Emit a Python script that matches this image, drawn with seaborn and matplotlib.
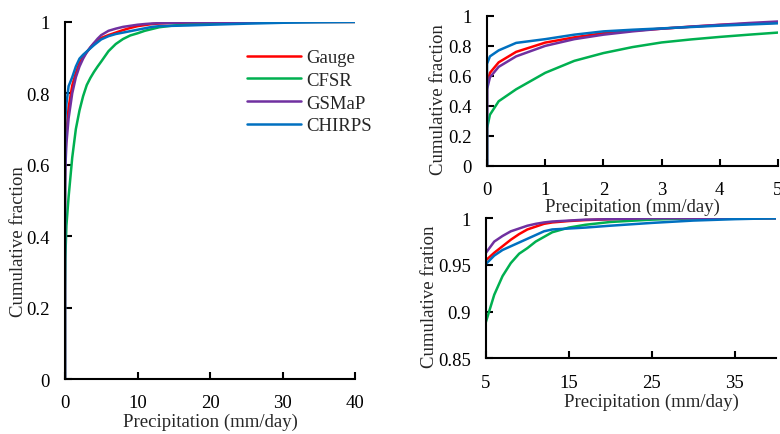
import matplotlib
matplotlib.use("Agg")
import matplotlib.pyplot as plt
import seaborn as sns
import pandas as pd

# cumulative distribution of daily precipitation
precip = [0, 0, 0.05, 0.2, 0.5, 1, 1.5, 2, 2.5, 3, 3.5, 4, 4.5,
          5, 6, 7, 8, 9, 10, 11, 12, 13, 15, 17, 20, 25, 30, 35, 40]

gauge = [0, 0.545, 0.62, 0.69, 0.76, 0.822, 0.857, 0.885, 0.902, 0.915, 0.928, 0.94, 0.948,
         0.955, 0.963, 0.970, 0.977, 0.983, 0.988, 0.991, 0.994, 0.9955, 0.997, 0.998, 0.999, 1, 1, 1, 1]
cfsr = [0, 0.25, 0.34, 0.43, 0.51, 0.62, 0.70, 0.752, 0.792, 0.823, 0.843, 0.86, 0.875,
        0.889, 0.918, 0.938, 0.952, 0.962, 0.968, 0.975, 0.980, 0.985, 0.990, 0.993, 0.996, 0.9985, 1, 1, 1]
gsmap = [0, 0.51, 0.59, 0.66, 0.73, 0.80, 0.845, 0.875, 0.897, 0.915, 0.929, 0.941, 0.953,
         0.963, 0.975, 0.981, 0.986, 0.989, 0.992, 0.994, 0.9955, 0.9965, 0.9975, 0.9985, 0.999, 1, 1, 1, 1]
chirps = [0, 0.68, 0.73, 0.77, 0.82, 0.845, 0.875, 0.897, 0.908, 0.917, 0.926, 0.935, 0.943,
          0.951, 0.960, 0.966, 0.970, 0.974, 0.978, 0.982, 0.986, 0.988, 0.989, 0.990, 0.992, 0.995, 0.9975, 0.999, 1]

products = ["Gauge", "CFSR", "GSMaP", "CHIRPS"]
colors = ["#FF0000", "#00B050", "#7030A0", "#0070C0"]

rows = []
for name, vals in zip(products, [gauge, cfsr, gsmap, chirps]):
    for x, y in zip(precip, vals):
        rows.append({"Precip": x, "Frac": y, "Product": name})
df = pd.DataFrame(rows)

sns.set_theme(style="ticks")
plt.rcParams['font.family'] = ['Liberation Serif', 'DejaVu Serif']
FS = 13.5

fig = plt.figure(figsize=(7.8, 4.35), dpi=100)
ax1 = fig.add_axes([0.0833, 0.1264, 0.372, 0.821])
ax2 = fig.add_axes([0.6244, 0.617, 0.373, 0.344])
ax3 = fig.add_axes([0.623, 0.174, 0.372, 0.322])


def draw(ax, legend=False):
    sns.lineplot(data=df, x="Precip", y="Frac", hue="Product", hue_order=products,
                 palette=colors, estimator=None, units="Product", sort=False,
                 linewidth=1.8, ax=ax, legend=legend)
    for s in ["top", "right"]:
        ax.spines[s].set_visible(False)
    for s in ["left", "bottom"]:
        ax.spines[s].set_linewidth(1.5)
        ax.spines[s].set_color("black")
    ax.tick_params(direction="in", length=5, width=1.5, pad=11,
                   labelsize=FS, colors="black")


# ================== left: full range ==================
draw(ax1, legend=True)
ax1.set_xlim(0, 40)
ax1.set_ylim(0, 1)
ax1.set_xticks([0, 10, 20, 30, 40])
ax1.set_yticks([0, 0.2, 0.4, 0.6, 0.8, 1])
ax1.set_yticklabels(["0", "0.2", "0.4", "0.6", "0.8", "1"])
ax1.set_xlabel("Precipitation (mm/day)", fontsize=FS, va="center")
ax1.set_ylabel("Cumulative fraction", fontsize=FS, va="center")
ax1.xaxis.set_label_coords(0.5, -0.118)
ax1.yaxis.set_label_coords(-0.159, 0.387)
ax1.legend(frameon=False, loc="upper left", bbox_to_anchor=(0.6, 0.945),
           fontsize=FS, handlelength=2.9, handletextpad=0.3, labelspacing=0.3,
           borderaxespad=0)

# ================== top right: 0-5 mm/day ==================
draw(ax2)
ax2.set_xlim(0, 5)
ax2.set_ylim(0, 1)
ax2.set_xticks([0, 1, 2, 3, 4, 5])
ax2.set_yticks([0, 0.2, 0.4, 0.6, 0.8, 1])
ax2.set_yticklabels(["0", "0.2", "0.4", "0.6", "0.8", "1"])
ax2.set_xlabel("Precipitation (mm/day)", fontsize=FS, va="center")
ax2.set_ylabel("Cumulative fraction", fontsize=FS, va="center")
ax2.xaxis.set_label_coords(0.5, -0.27)
ax2.yaxis.set_label_coords(-0.168, 0.45)

# ================== bottom right: 5-40 mm/day ==================
draw(ax3)
ax3.set_xlim(5, 40)
ax3.set_ylim(0.85, 1)
ax3.set_xticks([5, 15, 25, 35])
ax3.set_yticks([0.85, 0.9, 0.95, 1])
ax3.set_yticklabels(["0.85", "0.9", "0.95", "1"])
ax3.set_xlabel("Precipitation (mm/day)", fontsize=FS, va="center")
ax3.set_ylabel("Cumulative fration", fontsize=FS, va="center")
ax3.xaxis.set_label_coords(0.572, -0.305)
ax3.yaxis.set_label_coords(-0.195, 0.445)

fig.savefig("out.png", dpi=100)
plt.close()
